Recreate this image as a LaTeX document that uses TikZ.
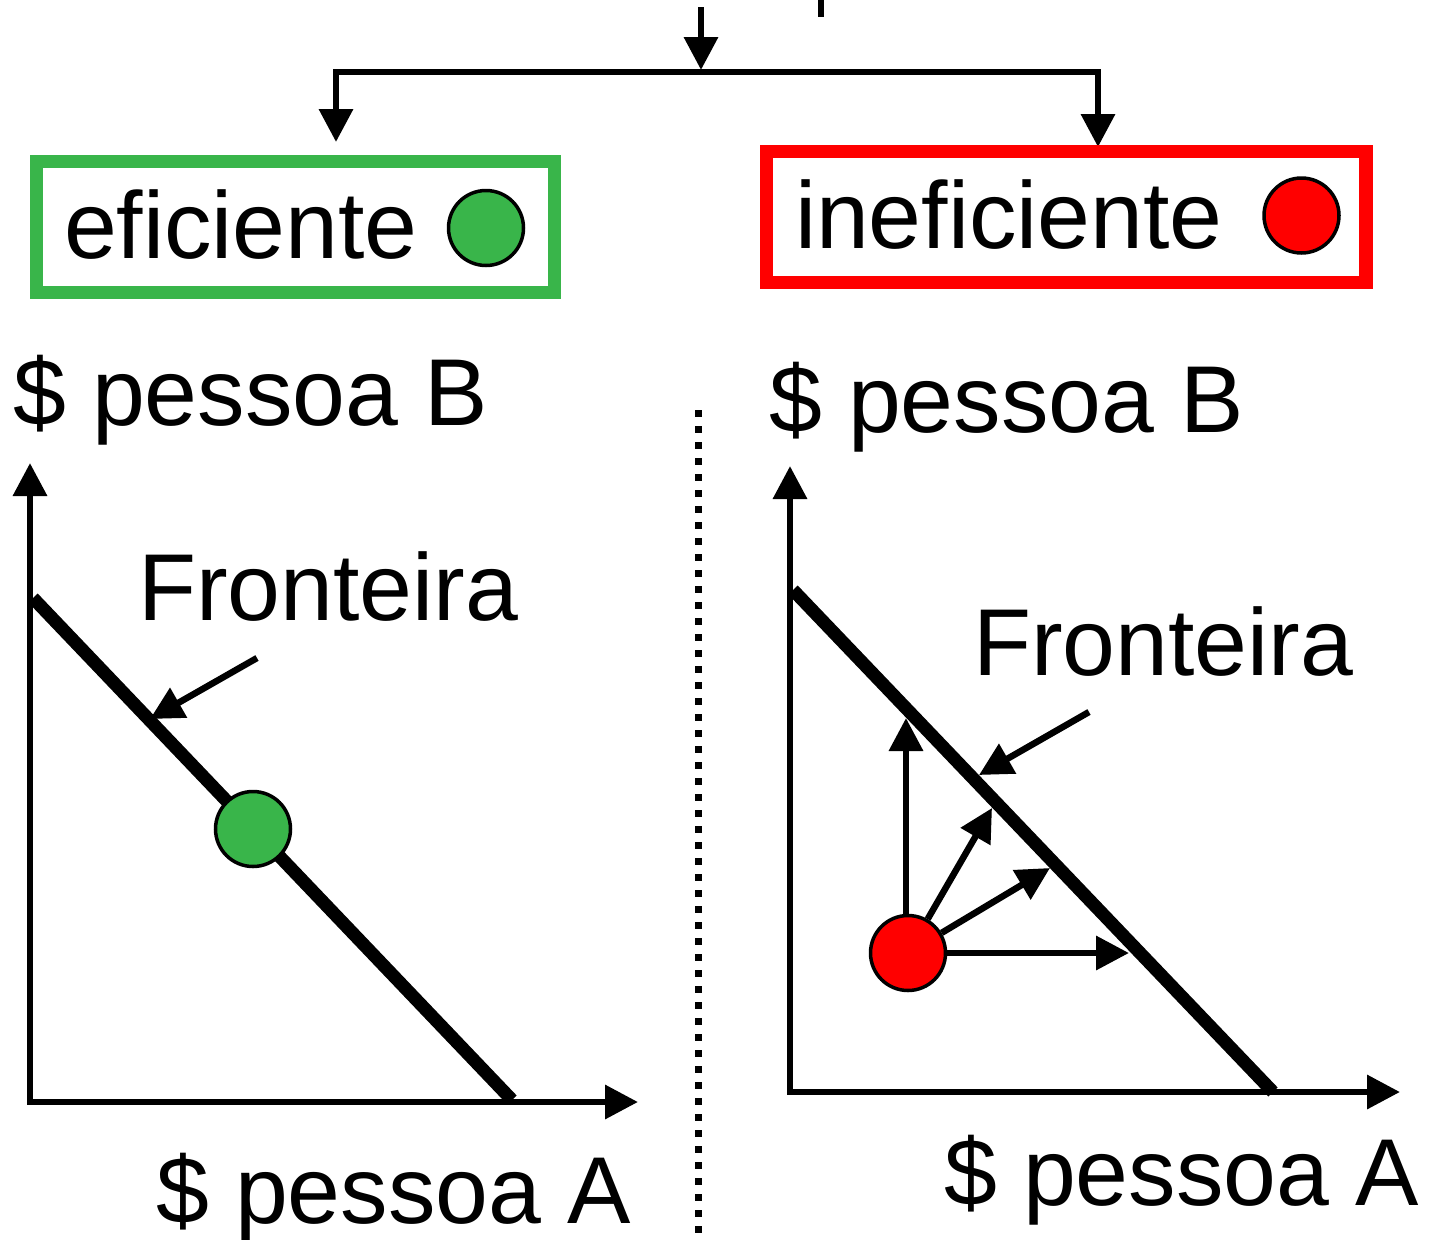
\documentclass[tikz,border=0pt]{standalone}
\usepackage{fontspec}
\setmainfont{Liberation Sans}
\usetikzlibrary{arrows.meta}
\definecolor{gr}{RGB}{57,181,74}
\definecolor{rd}{RGB}{255,0,0}
\begin{document}
\begin{tikzpicture}[x=1pt,y=-1pt,
  txt/.style={anchor=base west,inner sep=0pt,outer sep=0pt,font=\fontsize{95}{100}\selectfont},
  tip/.style={-{Triangle[length=33pt,width=33pt]}},
  bitip/.style={{Triangle[length=33pt,width=33pt]}-{Triangle[length=33pt,width=33pt]}},
  thin/.style={line width=6.5pt},
  front/.style={line width=13pt},
  dot/.style={circle,draw=black,line width=3.5pt,minimum size=75pt,inner sep=0pt},
  boxg/.style={draw=gr,line width=13pt},
  boxr/.style={draw=rd,line width=13.5pt}]
\useasboundingbox (0,0) rectangle (1433,1240);
% top connectors
\coordinate (bar1) at (821,0);
\coordinate (bar2) at (821,17);
\draw[thin] (bar1) -- (bar2);
\coordinate (t0) at (701,7);
\coordinate (t1) at (701,70);
\draw[thin,tip] (t0) -- (t1);
\coordinate (lt) at (336,142);
\coordinate (lc) at (336,72);
\coordinate (rc) at (1098,72);
\coordinate (rt) at (1098,147);
\draw[thin,bitip] (lt) -- (lc) -- (rc) -- (rt);
% boxes
\draw[boxg] (36.5,161.5) rectangle (554.5,292.5);
\node[txt] (eff) at (64,258) {eficiente};
\node[dot,fill=gr] (gbox) at (486,228) {};
\draw[boxr] (766.5,151.5) rectangle (1366,282.5);
\node[txt] (ineff) at (795,248) {ineficiente};
\node[dot,fill=rd] (rbox) at (1301.5,215.5) {};
% left plot
\node[txt] (lB) at (13,425) {\$ pessoa B};
\node[txt] (lA) at (156,1223) {\$ pessoa A};
\coordinate (ly) at (30,463);
\coordinate (lo) at (30,1102);
\coordinate (lx) at (638,1102);
\draw[thin,bitip] (ly) -- (lo) -- (lx);
\coordinate (lf1) at (33,598);
\coordinate (lf2) at (512,1100);
\draw[front] (lf1) -- (lf2);
\node[dot,fill=gr] (gdot) at (253,829) {};
\node[txt] (lF) at (138,620) {Fronteira};
\coordinate (lp0) at (257,658);
\coordinate (lp1) at (150,719);
\draw[thin,tip] (lp0) -- (lp1);
% divider
\coordinate (d0) at (698,410);
\coordinate (d1) at (698,1238);
\draw[line width=7pt,dash pattern=on 7pt off 9pt] (d0) -- (d1);
% right plot
\node[txt] (rB) at (769,432) {\$ pessoa B};
\node[txt] (rA) at (944,1205) {\$ pessoa A};
\coordinate (ry) at (790,466);
\coordinate (ro) at (790,1092);
\coordinate (rx) at (1400,1092);
\draw[thin,bitip] (ry) -- (ro) -- (rx);
\coordinate (rf1) at (793,590);
\coordinate (rf2) at (1273,1092);
\draw[front] (rf1) -- (rf2);
\node[txt] (rF) at (973,675) {Fronteira};
\coordinate (rp0) at (1089,712);
\coordinate (rp1) at (979,775);
\draw[thin,tip] (rp0) -- (rp1);
\node[dot,fill=rd] (rdot) at (908,953) {};
\coordinate (a1) at (906,718);
\coordinate (a2) at (992,808);
\coordinate (a3) at (1050,868);
\coordinate (a4) at (1129,953);
\draw[thin,tip] (rdot.north -| a1) -- (a1);
\draw[thin,tip] (rdot) -- (a2);
\draw[thin,tip] (rdot) -- (a3);
\draw[thin,tip] (rdot) -- (a4);
\end{tikzpicture}
\end{document}
